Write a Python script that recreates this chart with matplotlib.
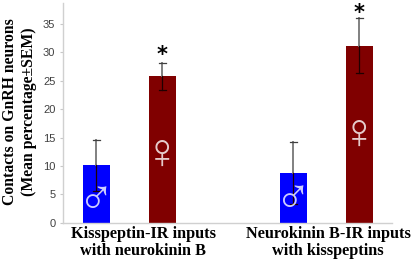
import matplotlib as mpl
mpl.use("agg")
import matplotlib.pyplot as plt

W, H = 414, 262

positions = [0, 1, 2.985, 3.985]
means = [10.1, 25.8, 8.7, 31.05]
err_up = [4.5, 2.4, 5.5, 4.95]
err_down = [4.5, 2.5, 5.4, 4.75]
colors = ["#0000ff", "#800000", "#0000ff", "#800000"]
symbols = ["\u2642", "\u2640", "\u2642", "\u2640"]
symbol_y = [3.8, 11.8, 3.9, 15.4]
yticks = [0, 5, 10, 15, 20, 25, 30, 35]
group_labels = ["Kisspeptin-IR inputs\nwith neurokinin B", "Neurokinin B-IR inputs\nwith kisspeptins"]
group_x = [0.71, 3.51]

serif = "Liberation Serif"
sans = "Liberation Sans"

fig = plt.figure(figsize=(W / 100, H / 100), dpi=100)
ax = fig.add_axes([63 / W, 1 - 222.7 / H, (392 - 63) / W, (222.7 - 3) / H])

ax.bar(positions, means, width=0.41, color=colors, edgecolor="none", zorder=2)

for x, m, up, dn in zip(positions, means, err_up, err_down):
    ax.plot([x, x], [m, m + up], color="#808080", lw=1.4, zorder=3)
    ax.plot([x, x], [m - dn, m], color="#200000", lw=0.9, zorder=3)
    ax.plot([x - 0.055, x + 0.055], [m + up, m + up], color="#404040", lw=0.9, zorder=3)
    ax.plot([x - 0.055, x + 0.055], [m - dn, m - dn], color="#200000", lw=0.9, zorder=3)

for x, y, s in zip(positions, symbol_y, symbols):
    ax.text(x, y, s, color="white", alpha=0.8, fontsize=35, family=sans,
            ha="center", va="center", zorder=4)

ax.text(1, 29.6, "*", fontsize=15, family="DejaVu Sans", weight="bold", ha="center", va="center")
ax.text(3.985, 37.0, "*", fontsize=15, family="DejaVu Sans", weight="bold", ha="center", va="center")

ax.set_xlim(-0.503, 4.48)
ax.set_ylim(0, 38.7)
ax.set_yticks(yticks)
ax.set_xticks([])
ax.tick_params(axis="y", length=2.5, width=0.8, color="#c8c8c8", labelcolor="#404040", pad=3)
for lab in ax.get_yticklabels():
    lab.set_family(sans)
    lab.set_fontsize(8)

for s in ["top", "right"]:
    ax.spines[s].set_visible(False)
for s in ["left", "bottom"]:
    ax.spines[s].set_color("#d0d0d0")
    ax.spines[s].set_linewidth(1.0)

for x, label in zip(group_x, group_labels):
    ax.text(x, -0.6, label, fontsize=11.7, family=serif, weight="bold", ha="center", va="top",
            linespacing=1.08, color="black")

fig.text(10 / W, 1 - 112 / H, "Contacts on GnRH neurons", rotation=90, fontsize=11.3,
         family=serif, weight="bold", ha="center", va="center", color="black")
fig.text(29 / W, 1 - 112 / H, "(Mean percentage\u00b1SEM)", rotation=90, fontsize=11.3,
         family=serif, weight="bold", ha="center", va="center", color="black")

fig.savefig("out.png", dpi=100)
